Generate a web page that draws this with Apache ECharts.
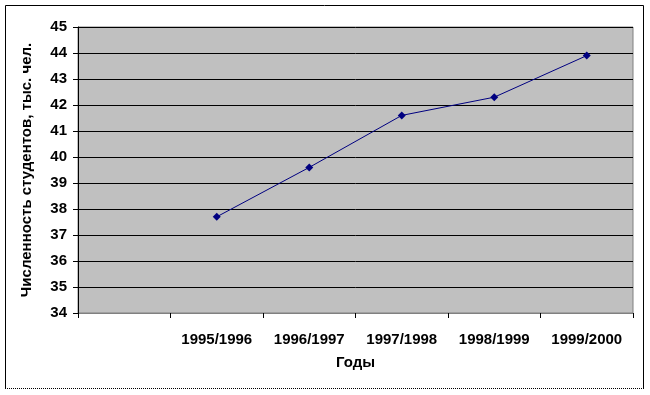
<!DOCTYPE html>
<html><head><meta charset="utf-8">
<script src="https://cdn.jsdelivr.net/npm/echarts@6/dist/echarts.min.js"></script>
<style>html,body{margin:0;padding:0;background:#fff}#c{width:650px;height:395px}</style>
</head><body><div id="c"></div>
<script>
const categories = ['', '1995/1996', '1996/1997', '1997/1998', '1998/1999', '1999/2000'];
const students = [null, 37.7, 39.6, 41.6, 42.3, 43.9];
const yAxisTitle = 'Численность студентов, тыс. чел.';
const xAxisTitle = 'Годы';

const font = '"Liberation Sans", Arial, sans-serif';
const chart = echarts.init(document.getElementById('c'));
chart.setOption({
  animation: false,
  backgroundColor: '#fff',
  graphic: [
    {type: 'polyline', shape: {points: [[5.5, 388], [5.5, 5.5], [643.5, 5.5], [643.5, 388]]},
     style: {fill: 'none', stroke: '#000', lineWidth: 1}, z: -10},
    {type: 'line', shape: {x1: 5, y1: 388.5, x2: 644, y2: 388.5},
     style: {stroke: '#000', lineWidth: 1, lineDash: [1, 1]}, z: -10}
  ],
  grid: {left: 78, right: 17, top: 27, bottom: 82, show: true, backgroundColor: '#c0c0c0', borderColor: '#808080', borderWidth: 1},
  xAxis: {
    type: 'category', data: categories, boundaryGap: true,
    name: xAxisTitle, nameLocation: 'middle', nameGap: 42,
    nameTextStyle: {fontFamily: font, fontWeight: 'bold', fontSize: 15, color: '#000'},
    axisLine: {lineStyle: {color: '#808080', width: 1}},
    axisTick: {show: true, inside: false, length: 5, lineStyle: {color: '#000'}, alignWithLabel: false},
    axisLabel: {fontFamily: font, fontWeight: 'bold', fontSize: 15, color: '#000', margin: 19, interval: 0},
    splitLine: {show: false}
  },
  yAxis: {
    type: 'value', min: 34, max: 45, interval: 1,
    name: yAxisTitle, nameLocation: 'middle', nameGap: 44, nameRotate: 90,
    nameTextStyle: {fontFamily: font, fontWeight: 'bold', fontSize: 15, color: '#000'},
    axisLine: {show: true, lineStyle: {color: '#000', width: 1}},
    axisTick: {show: true, inside: false, length: 5, lineStyle: {color: '#000'}},
    axisLabel: {fontFamily: font, fontWeight: 'bold', fontSize: 15, color: '#000', margin: 11},
    splitLine: {show: true, lineStyle: {color: '#000', width: 1}}
  },
  series: [{
    type: 'line', data: students,
    symbol: 'diamond', symbolSize: 8, showSymbol: true,
    connectNulls: false,
    lineStyle: {color: '#000080', width: 1},
    itemStyle: {color: '#000080'}
  }]
});
</script></body></html>
